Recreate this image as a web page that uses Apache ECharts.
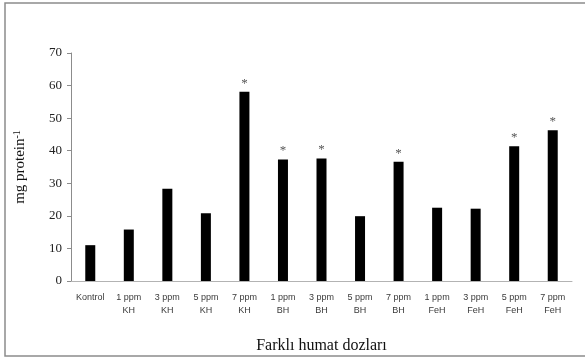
<!DOCTYPE html>
<html>
<head>
<meta charset="utf-8">
<script src="https://cdn.jsdelivr.net/npm/echarts@6/dist/echarts.min.js"></script>
<style>
  html, body { margin: 0; padding: 0; background: #fff; }
  #chart { width: 585px; height: 359px; }
</style>
</head>
<body>
<div id="chart"></div>
<script>
// Treatment groups (dose + humate type)
const categories = [
  'Kontrol', '1 ppm\nKH', '3 ppm\nKH', '5 ppm\nKH', '7 ppm\nKH',
  '1 ppm\nBH', '3 ppm\nBH', '5 ppm\nBH', '7 ppm\nBH',
  '1 ppm\nFeH', '3 ppm\nFeH', '5 ppm\nFeH', '7 ppm\nFeH'
];
// Protein content per treatment
const values = [11, 15.8, 28.3, 20.8, 58.1, 37.3, 37.6, 19.9, 36.6, 22.5, 22.2, 41.4, 46.3];
// Statistically significant groups, marked with an asterisk
const significant = [false, false, false, false, true, true, true, false, true, false, false, true, true];
const yTicks = { min: 0, max: 70, interval: 10 };

const chart = echarts.init(document.getElementById('chart'), null, { renderer: 'canvas' });

const seriesData = values.map((v, i) => ({
  value: v,
  label: { show: significant[i] }
}));

chart.setOption({
  animation: false,
  backgroundColor: '#fff',
  graphic: [{
    type: 'rect',
    shape: { x: 5, y: 3, width: 590, height: 353 },
    style: { fill: 'none', stroke: '#8c8c8c', lineWidth: 1.5 },
    silent: true
  }],
  grid: { left: 71, right: 13, top: 53, bottom: 77, containLabel: false },
  xAxis: {
    type: 'category',
    data: categories,
    axisLine: { lineStyle: { color: '#b3b3b3', width: 1 } },
    axisTick: { show: false },
    axisLabel: {
      interval: 0,
      margin: 10,
      fontFamily: 'Liberation Sans',
      fontSize: 9,
      lineHeight: 13,
      color: '#3a3a3a'
    },
    name: 'Farklı humat dozları',
    nameLocation: 'middle',
    nameGap: 57,
    nameTextStyle: { fontFamily: 'Liberation Serif', fontSize: 16, color: '#111' }
  },
  yAxis: {
    type: 'value',
    min: yTicks.min,
    max: yTicks.max,
    interval: yTicks.interval,
    splitLine: { show: false },
    axisLine: { show: true, lineStyle: { color: '#8c8c8c', width: 1 } },
    axisTick: { show: true, length: 4, lineStyle: { color: '#8c8c8c' } },
    axisLabel: { fontFamily: 'Liberation Serif', fontSize: 13, color: '#222', margin: 9 },
    name: '{a|mg protein}{b|-1}',
    nameLocation: 'middle',
    nameGap: 43,
    nameRotate: 90,
    nameTextStyle: {
      rich: {
        a: { fontFamily: 'Liberation Serif', fontSize: 15, color: '#111' },
        b: { fontFamily: 'Liberation Serif', fontSize: 10, color: '#111', verticalAlign: 'top', padding: [0, 0, 6, 0] }
      }
    }
  },
  series: [{
    type: 'bar',
    data: seriesData,
    barWidth: 10,
    itemStyle: { color: '#000' },
    label: {
      position: 'top',
      distance: 2,
      formatter: '*',
      fontFamily: 'Liberation Serif',
      fontSize: 13,
      color: '#555'
    }
  }]
});
</script>
</body>
</html>
